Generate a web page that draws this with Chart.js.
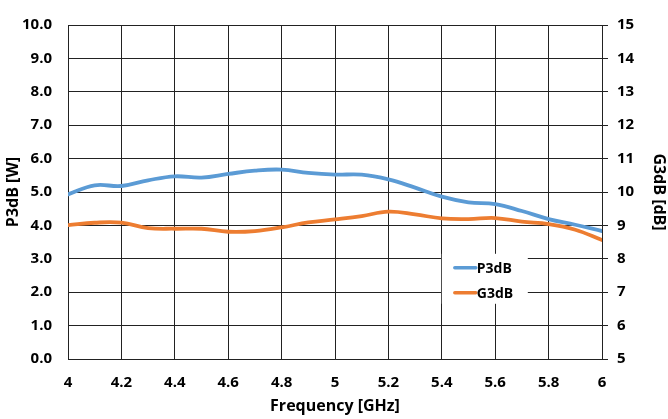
<!DOCTYPE html>
<html>
<head>
<meta charset="utf-8">
<script src="https://cdn.jsdelivr.net/npm/chart.js@4.4.1/dist/chart.umd.min.js"></script>
<style>
html,body{margin:0;padding:0;background:#fff;}
#wrap{width:668px;height:419px;position:relative;}
</style>
</head>
<body>
<div id="wrap"><canvas id="c" width="668" height="419"></canvas></div>
<script>
const freqs = [4.0,4.1,4.2,4.3,4.4,4.5,4.6,4.7,4.8,4.9,5.0,5.1,5.2,5.3,5.4,5.5,5.6,5.7,5.8,5.9,6.0];
const p3dB = [4.93,5.20,5.18,5.35,5.47,5.43,5.54,5.64,5.67,5.57,5.52,5.52,5.38,5.13,4.86,4.69,4.64,4.43,4.19,4.02,3.83];
const g3dB = [9.01,9.08,9.08,8.92,8.90,8.90,8.81,8.83,8.94,9.09,9.18,9.28,9.41,9.33,9.21,9.19,9.22,9.11,9.04,8.87,8.56];
const xTicks = [4.0,4.2,4.4,4.6,4.8,5.0,5.2,5.4,5.6,5.8,6.0];
const leftTicks = [0,1,2,3,4,5,6,7,8,9,10];
const rightTicks = [5,6,7,8,9,10,11,12,13,14,15];
const seriesNames = ['P3dB','G3dB'];
const blue = '#5B9BD5', orange = '#ED7D31';
const FONT = '"Open Sans", sans-serif';

const legendPlugin = {
  id: 'boxLegend',
  afterDatasetsDraw(chart) {
    const ctx = chart.ctx, a = chart.chartArea;
    const w = a.right - a.left, h = a.bottom - a.top;
    const bx = a.left + w * 0.7, by = a.top + h * 0.685;
    const bw = 86, bh = 50;
    ctx.save();
    ctx.fillStyle = '#fff';
    ctx.fillRect(bx, by, bw, bh);
    const items = [[seriesNames[0], blue], [seriesNames[1], orange]];
    ctx.font = 'bold 14px ' + FONT;
    ctx.textBaseline = 'middle';
    items.forEach((it, i) => {
      const y = by + 14 + i * 25;
      ctx.strokeStyle = it[1];
      ctx.lineWidth = 3.5;
      ctx.lineCap = 'round';
      ctx.beginPath();
      ctx.moveTo(bx + 13, y);
      ctx.lineTo(bx + 34, y);
      ctx.stroke();
      ctx.fillStyle = '#000';
      ctx.fillText(it[0], bx + 35, y + 1);
    });
    ctx.restore();
  }
};

new Chart(document.getElementById('c'), {
  type: 'line',
  data: {
    datasets: [
      { label: seriesNames[0], data: freqs.map((f,i)=>({x:f,y:p3dB[i]})), yAxisID: 'y', borderColor: blue, backgroundColor: blue, borderWidth: 3.8, pointRadius: 0, tension: 0.4, order: 1, borderCapStyle: 'round' },
      { label: seriesNames[1], data: freqs.map((f,i)=>({x:f,y:g3dB[i]})), yAxisID: 'y2', borderColor: orange, backgroundColor: orange, borderWidth: 3.8, pointRadius: 0, tension: 0.4, order: 0, borderCapStyle: 'round' }
    ]
  },
  options: {
    responsive: false,
    animation: false,
    devicePixelRatio: 1,
    layout: { padding: { top: 15, left: 0, right: 0, bottom: 0 } },
    plugins: { legend: { display: false }, tooltip: { enabled: false } },
    scales: {
      x: {
        type: 'linear', min: 4, max: 6,
        afterBuildTicks: s => { s.ticks = xTicks.map(v => ({ value: v })); },
        afterFit: s => { s.height = 60; },
        ticks: { callback: v => String(Number(v.toFixed(1))), font: { family: FONT, size: 15, weight: 'bold' }, color: '#000', padding: 15, maxRotation: 0 },
        grid: { color: '#222', lineWidth: 1, drawTicks: false },
        border: { color: '#222', width: 1 },
        title: { display: true, text: 'Frequency [GHz]', font: { family: FONT, size: 16, weight: 'bold' }, color: '#000', padding: { top: 0, bottom: 3 } }
      },
      y: {
        position: 'left', min: 0, max: 10,
        afterBuildTicks: s => { s.ticks = leftTicks.map(v => ({ value: v })); },
        afterFit: s => { s.width = 68; },
        ticks: { callback: v => v.toFixed(1), font: { family: FONT, size: 15, weight: 'bold' }, color: '#000', padding: 16 },
        grid: { color: '#222', lineWidth: 1, drawTicks: false },
        border: { color: '#222', width: 1 },
        title: { display: true, text: 'P3dB [W]', font: { family: FONT, size: 16, weight: 'bold' }, color: '#000', padding: { top: 4, bottom: 0 } }
      },
      y2: {
        position: 'right', min: 5, max: 15,
        afterBuildTicks: s => { s.ticks = rightTicks.map(v => ({ value: v })); },
        afterFit: s => { s.width = 66; },
        ticks: { callback: v => String(v), font: { family: FONT, size: 15, weight: 'bold' }, color: '#000', padding: 9 },
        grid: { drawOnChartArea: false, drawTicks: true, tickLength: 6, color: '#222' },
        border: { color: '#222', width: 1 },
        title: { display: true, text: 'G3dB [dB]', font: { family: FONT, size: 16, weight: 'bold' }, color: '#000', padding: { top: 0, bottom: 0 } }
      }
    }
  },
  plugins: [legendPlugin]
});
</script>
</body>
</html>
